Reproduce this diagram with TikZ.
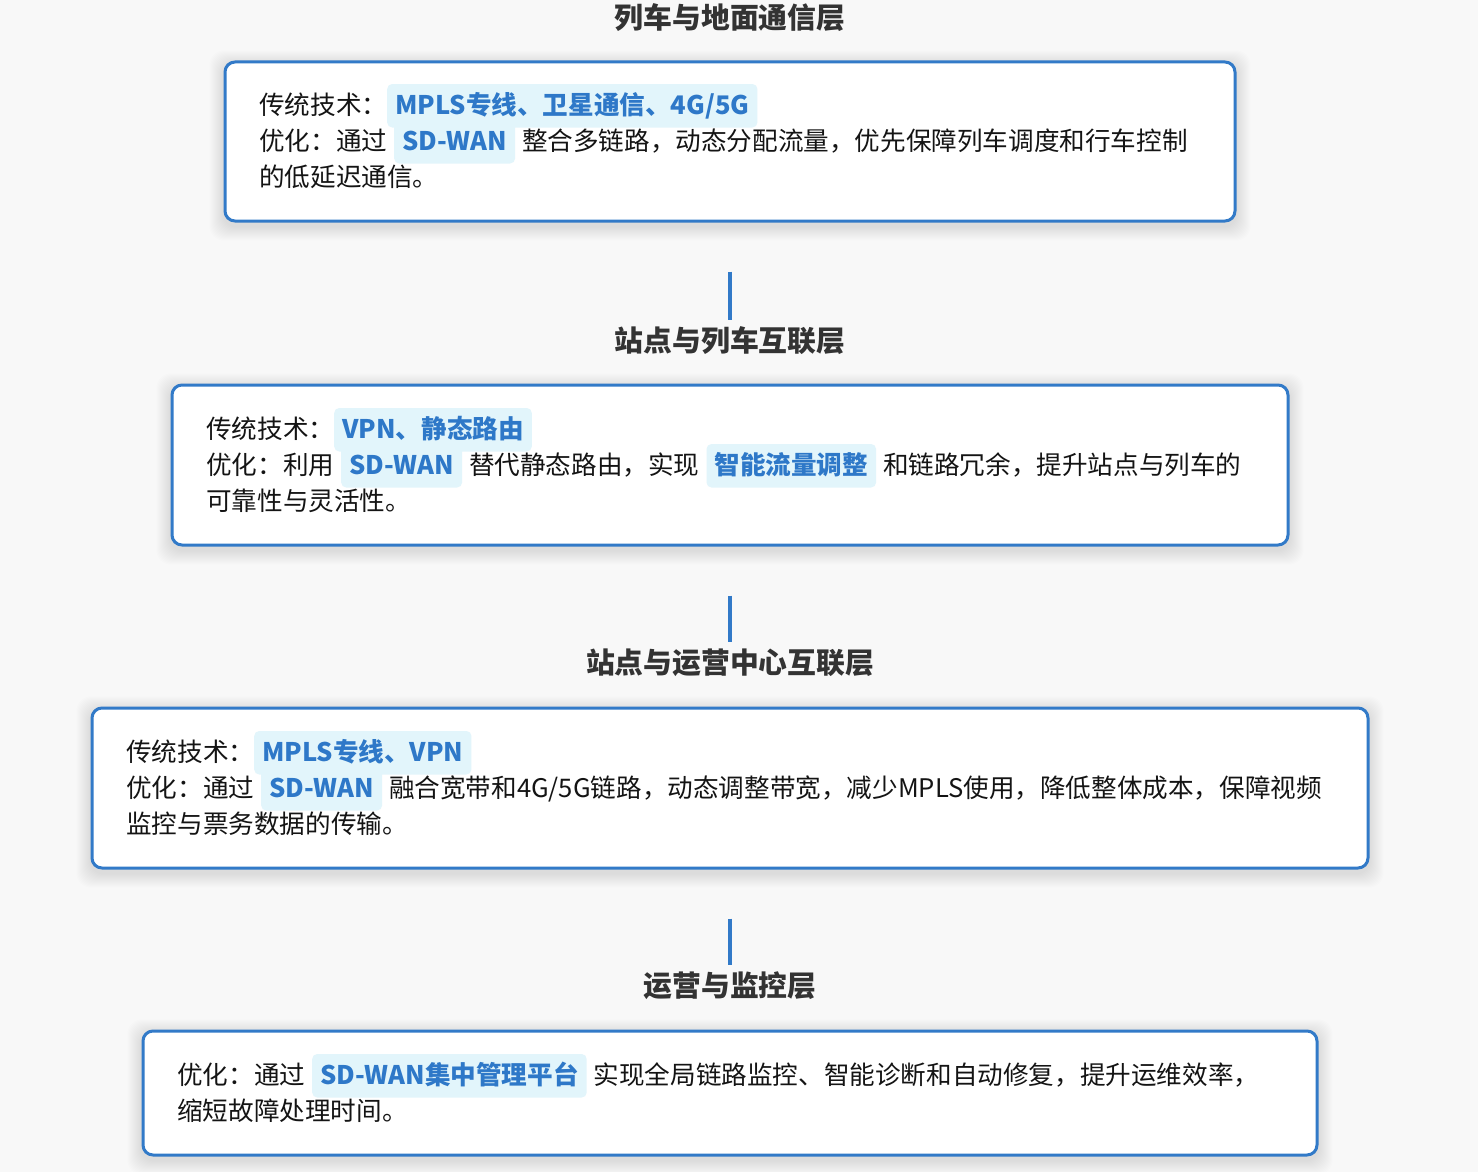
\documentclass[tikz,border=0pt]{standalone}
\usepackage{fontspec}
\setmainfont{Noto Sans CJK SC}
\definecolor{bgc}{RGB}{248,248,248}
\definecolor{edgec}{RGB}{50,122,200}
\definecolor{chipbg}{RGB}{226,245,251}
\definecolor{chipfg}{RGB}{46,120,200}
\definecolor{titlefg}{RGB}{51,51,51}
\definecolor{bodyfg}{RGB}{20,20,20}
\pgfdeclarelayer{backlayer}
\pgfdeclarelayer{shadowlayer}
\pgfsetlayers{backlayer,shadowlayer,main}
\newcommand\bodysize{\fontsize{25.6pt}{36pt}\selectfont}
\newcommand\chip[1]{\smash{\tikz[baseline=(chipnode.base)]\node[fill=chipbg,draw=none,rounded corners=5pt,inner xsep=8pt,inner ysep=0pt,text height=30pt,text depth=13.5pt,text=chipfg,font=\bodysize\bfseries,anchor=base](chipnode){#1};}}
\newcommand\hs{\hspace{7pt}}
\begin{document}
\begin{tikzpicture}[x=1pt,y=-1pt,
  box/.style={draw=edgec,line width=3pt,fill=white,rounded corners=10pt},
  ttl/.style={font=\fontsize{28.8pt}{34pt}\selectfont\bfseries,text=titlefg,inner sep=0pt},
  body/.style={font=\bodysize,text=bodyfg,inner sep=0pt,anchor=base west},
  conn/.style={draw=edgec,line width=4pt}]
\begin{pgfonlayer}{backlayer}
\fill[bgc] (0,0) rectangle (1478,1172);
\end{pgfonlayer}
\useasboundingbox (0,0) rectangle (1478,1172);

% titles
\node[ttl] (t1) at (730,18) {列车与地面通信层};
\node[ttl] (t2) at (730,341) {站点与列车互联层};
\node[ttl] (t3) at (730,663) {站点与运营中心互联层};
\node[ttl] (t4) at (730,986) {运营与监控层};

% boxes
\node[box,minimum width=1010pt,minimum height=159pt] (b1) at (730,141.5) {};
\node[box,minimum width=1116pt,minimum height=160pt] (b2) at (730,465) {};
\node[box,minimum width=1276pt,minimum height=160pt] (b3) at (730,788) {};
\node[box,minimum width=1174pt,minimum height=124pt] (b4) at (730,1093) {};

% soft shadows
\begin{pgfonlayer}{shadowlayer}
\foreach \b in {b1,b2,b3,b4}{
  \foreach \k in {1,...,14}{
    \fill[black,opacity=0.006,rounded corners=14pt]
      ([xshift=-\k pt,yshift={-(4+\k)*1pt}]\b.south west) rectangle
      ([xshift=\k pt,yshift={-(4-\k)*1pt}]\b.north east);
  }
}
\end{pgfonlayer}

% connectors
\draw[conn] ([yshift=-49pt]b1.south) -- ([yshift=7pt]t2.north);
\draw[conn] ([yshift=-49pt]b2.south) -- ([yshift=7pt]t3.north);
\draw[conn] ([yshift=-49pt]b3.south) -- ([yshift=7pt]t4.north);

% box 1 text
\node[body] (b1l1) at (259,114) {传统技术：\chip{MPLS专线、卫星通信、4G/5G}};
\node[body] (b1l2) at (259,150) {优化：通过\hs\chip{SD-WAN}\hs 整合多链路，动态分配流量，优先保障列车调度和行车控制};
\node[body] (b1l3) at (259,186) {的低延迟通信。};

% box 2 text
\node[body] (b2l1) at (206,438) {传统技术：\chip{VPN、静态路由}};
\node[body] (b2l2) at (206,474) {优化：利用\hs\chip{SD-WAN}\hs 替代静态路由，实现\hs\chip{智能流量调整}\hs 和链路冗余，提升站点与列车的};
\node[body] (b2l3) at (206,510) {可靠性与灵活性。};

% box 3 text
\node[body] (b3l1) at (126,761) {传统技术：\chip{MPLS专线、VPN}};
\node[body] (b3l2) at (126,797) {优化：通过\hs\chip{SD-WAN}\hs 融合宽带和4G/5G链路，动态调整带宽，减少MPLS使用，降低整体成本，保障视频};
\node[body] (b3l3) at (126,833) {监控与票务数据的传输。};

% box 4 text
\node[body] (b4l1) at (177,1084) {优化：通过\hs\chip{SD-WAN集中管理平台}\hs 实现全局链路监控、智能诊断和自动修复，提升运维效率，};
\node[body] (b4l2) at (177,1120) {缩短故障处理时间。};
\end{tikzpicture}
\end{document}
